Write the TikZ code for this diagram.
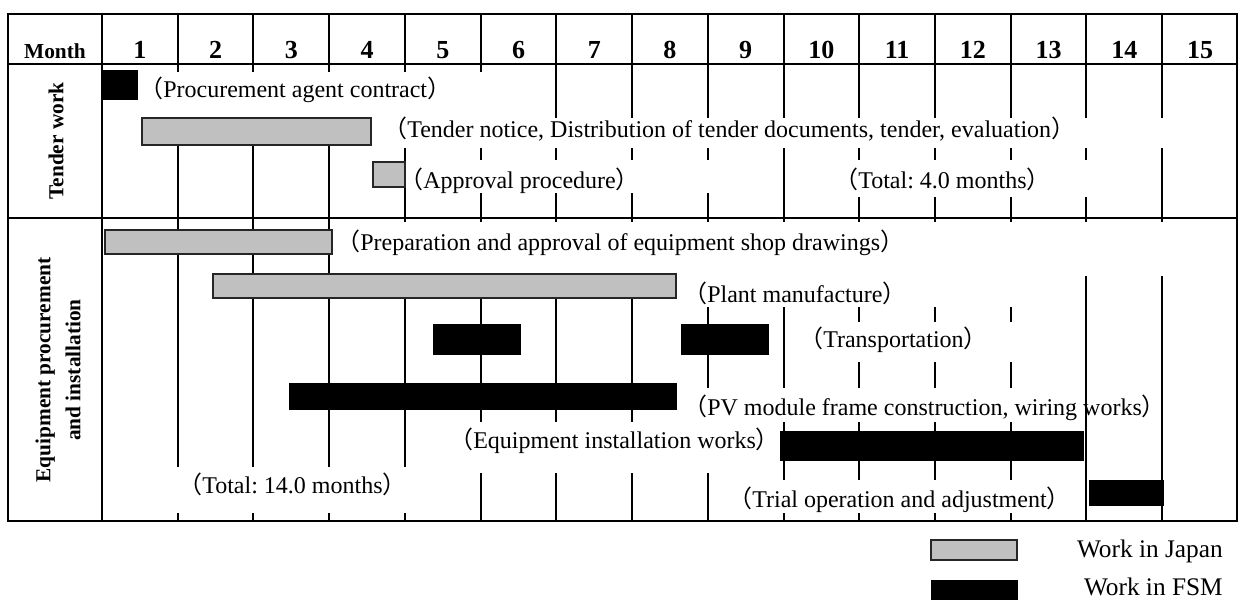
\documentclass[tikz,border=0pt]{standalone}
\usepackage{fontspec}
\setmainfont{Liberation Serif}
\newfontfamily\cjk{Noto Sans CJK JP}
\newcommand{\lpar}{{\cjk （}}
\newcommand{\rpar}{{\cjk ）}}
\definecolor{japangray}{RGB}{192,192,192}
\frenchspacing
\begin{document}
\begin{tikzpicture}[x=0.75pt,y=-0.75pt,
  grid/.style={line width=1.5pt},
  japan/.style={fill=japangray,draw=black!85,line width=1pt},
  fsm/.style={fill=black,draw=black,line width=0.6pt},
  mask/.style={fill=white},
  lbl/.style={anchor=base west,inner sep=0pt,font=\fontsize{18}{21}\selectfont},
  head/.style={anchor=base,inner sep=0pt,font=\fontsize{16}{19}\bfseries\selectfont},
  num/.style={anchor=base,inner sep=0pt,font=\fontsize{19.5}{22}\bfseries\selectfont},
  side/.style={rotate=90,inner sep=0pt,align=center,font=\fontsize{16}{22.5}\bfseries\selectfont},
  legend/.style={anchor=base east,inner sep=0pt,font=\fontsize{19}{22}\selectfont},
]
\useasboundingbox (0,0) rectangle (1240,604);

% table frame and grid
\draw[grid] (8,14) rectangle (1237,521);
\draw[grid] (8,64) -- (1237,64);
\draw[grid] (8,218) -- (1237,218);
\foreach \k in {0,...,14}
  \draw[grid] ({102+\k*75.73},14) -- ({102+\k*75.73},521);

% white text boxes that interrupt the grid lines
\fill[mask] (140,72) rectangle (520,118);
\fill[mask] (385,118) rectangle (1195,148);
\fill[mask] (410,160) rectangle (775,193);
\fill[mask] (835,160) rectangle (1110,197);
\fill[mask] (340,222) rectangle (1200,276);
\fill[mask] (685,276) rectangle (1050,307);
\fill[mask] (790,322) rectangle (1050,362);
\fill[mask] (685,388) rectangle (1080,422);
\fill[mask] (450,422) rectangle (775,473);
\fill[mask] (140,467) rectangle (465,513);
\fill[mask] (735,480) rectangle (1080,513);

% header row
\node[head] (month) at (55,58) {Month};
\foreach \k in {1,...,15}
  \node[num] (m\k) at ({102+(\k-0.5)*75.73},58) {\k};

% section titles
\node[side] (tender) at (56,141) {Tender work};
\node[side] (equip) at (58,370) {Equipment procurement\\and installation};

% tender work bars
\draw[fsm] (103,70) rectangle (137,99);
\draw[japan] (142,118) rectangle (371,145);
\draw[japan] (373,162) rectangle (405,187);

% equipment procurement and installation bars
\draw[japan] (105,230) rectangle (332,254);
\draw[japan] (213,274) rectangle (676,298);
\draw[fsm] (433,324) rectangle (520,354);
\draw[fsm] (681,324) rectangle (768,354);
\draw[fsm] (289,383) rectangle (676,409);
\draw[fsm] (780,431) rectangle (1083,460);
\draw[fsm] (1089,480) rectangle (1163,505);

% activity labels
\node[lbl] (l1) at (139,97) {\lpar Procurement agent contract\rpar};
\node[lbl] (l2) at (383,137) {\lpar Tender notice, Distribution of tender documents, tender, evaluation\rpar};
\node[lbl] (l3) at (399,188) {\lpar Approval procedure\rpar};
\node[lbl] (l4) at (834,188) {\lpar Total: 4.0 months\rpar};
\node[lbl] (l5) at (336,250) {\lpar Preparation and approval of equipment shop drawings\rpar};
\node[lbl] (l6) at (683,302) {\lpar Plant manufacture\rpar};
\node[lbl] (l7) at (799,347) {\lpar Transportation\rpar};
\node[lbl] (l8) at (683,415) {\lpar PV module frame construction, wiring works\rpar};
\node[lbl] (l9) at (449,448) {\lpar Equipment installation works\rpar};
\node[lbl] (l10) at (178,493) {\lpar Total: 14.0 months\rpar};
\node[lbl] (l11) at (728,507) {\lpar Trial operation and adjustment\rpar};

% legend
\draw[japan] (931,540) rectangle (1017,560);
\draw[fsm] (931,580) rectangle (1017,599);
\node[legend] (kj) at (1223,557) {Work in Japan};
\node[legend] (kf) at (1223,595) {Work in FSM};
\end{tikzpicture}
\end{document}
